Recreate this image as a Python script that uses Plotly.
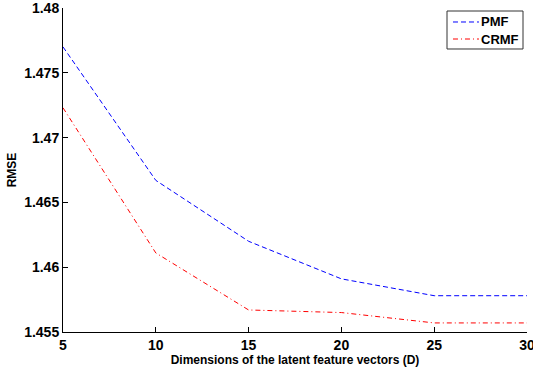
import plotly.graph_objects as go

dims = [5, 10, 15, 20, 25, 30]
pmf = [1.4770, 1.4667, 1.4620, 1.4591, 1.4578, 1.4578]
crmf = [1.4723, 1.4611, 1.4567, 1.4565, 1.4557, 1.4557]
y_ticks = [1.455, 1.46, 1.465, 1.47, 1.475, 1.48]
y_tick_text = ["1.455", "1.46", "1.465", "1.47", "1.475", "1.48"]
x_ticks = [5, 10, 15, 20, 25, 30]
series_names = ["PMF", "CRMF"]
series_colors = ["#0000ff", "#ff0000"]
series_dashes = ["5px,3px", "5px,3px,1px,3px"]

FAM = "Liberation Sans, Arial, sans-serif"
font = dict(family=FAM, size=14, color="black", weight="bold")

fig = go.Figure()
for name, vals, col, dash in zip(series_names, [pmf, crmf], series_colors, series_dashes):
    fig.add_trace(go.Scatter(x=dims, y=vals, mode="lines", name=name,
                             line=dict(color=col, width=1, dash=dash)))

# legend box drawn in plot-area (paper) coordinates
legend_rows_y = [0.9568, 0.9043]
shapes = [dict(type="rect", xref="paper", yref="paper", x0=0.8276, x1=0.9914,
               y0=0.8735, y1=0.9907, line=dict(color="#333333", width=1),
               fillcolor="white", layer="above")]
annotations = []
for name, col, dash, yy in zip(series_names, series_colors, series_dashes, legend_rows_y):
    shapes.append(dict(type="line", xref="paper", yref="paper", x0=0.8405, x1=0.8965,
                       y0=yy, y1=yy, line=dict(color=col, width=1, dash=dash), layer="above"))
    annotations.append(dict(xref="paper", yref="paper", x=0.8966, y=yy, text=name,
                            showarrow=False, xanchor="left", yanchor="middle",
                            font=dict(family=FAM, size=13, weight="bold", color="black")))

fig.update_layout(
    width=533, height=367,
    margin=dict(l=63, r=6, t=8, b=35, autoexpand=False),
    paper_bgcolor="white", plot_bgcolor="white",
    font=font,
    showlegend=False,
    shapes=shapes,
    annotations=annotations,
)
fig.update_xaxes(range=[5, 30], tickvals=x_ticks, ticks="inside", ticklen=5,
                 showline=True, linecolor="black", linewidth=1, showgrid=False,
                 zeroline=False, mirror=False, tickcolor="black", automargin=False,
                 ticklabeloverflow="allow",
                 title=dict(text="Dimensions of the latent feature vectors (D)", standoff=2,
                            font=dict(size=12)))
fig.update_yaxes(range=[1.455, 1.48], tickvals=y_ticks, ticktext=y_tick_text,
                 ticks="inside", ticklen=5,
                 showline=True, linecolor="black", linewidth=1, showgrid=False,
                 zeroline=False, mirror=False, tickcolor="black", automargin=False,
                 ticklabeloverflow="allow",
                 title=dict(text="RMSE", standoff=4, font=dict(size=12)))

fig.write_html("out.html", config={"displayModeBar": False},
               post_script="document.body.style.margin='0';")
